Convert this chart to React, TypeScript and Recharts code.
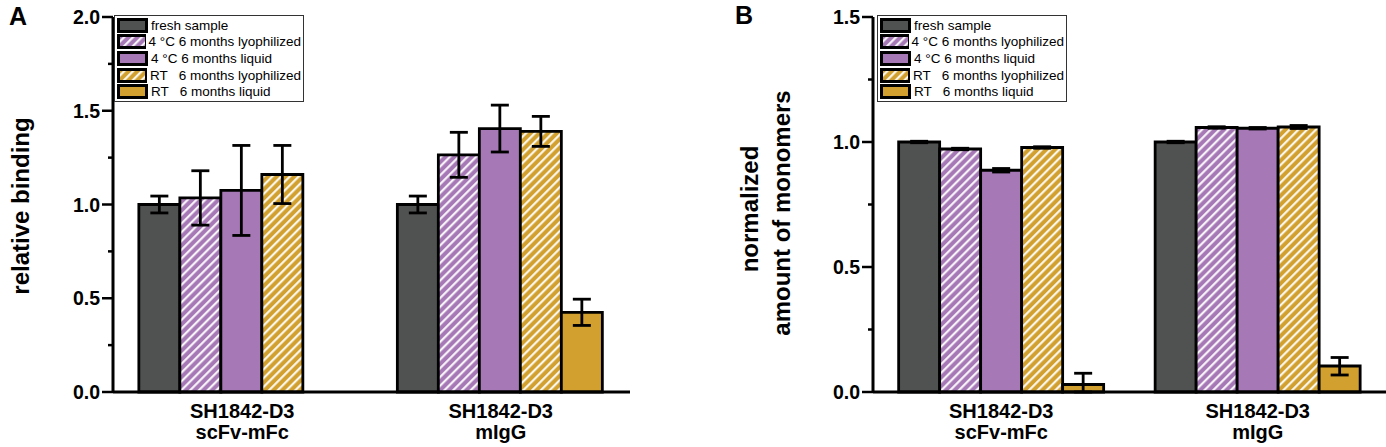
import React from 'react';
import { BarChart, Bar, XAxis, YAxis, ErrorBar, Legend } from 'recharts';

// categories (two-line labels)
const CATEGORIES = [
  ['SH1842-D3', 'scFv-mFc'],
  ['SH1842-D3', 'mIgG'],
];

const SERIES_NAMES = [
  'fresh sample',
  '4 °C 6 months lyophilized',
  '4 °C 6 months liquid',
  'RT   6 months lyophilized',
  'RT   6 months liquid',
];

// panel A: relative binding
const BINDING_FRESH = [1.0, 1.0];
const BINDING_4C_LYO = [1.035, 1.265];
const BINDING_4C_LIQ = [1.075, 1.405];
const BINDING_RT_LYO = [1.16, 1.39];
const BINDING_RT_LIQ = [null, 0.425];
const BINDING_FRESH_ERR = [0.045, 0.045];
const BINDING_4C_LYO_ERR = [0.145, 0.12];
const BINDING_4C_LIQ_ERR = [0.24, 0.125];
const BINDING_RT_LYO_ERR = [0.155, 0.08];
const BINDING_RT_LIQ_ERR = [null, 0.07];
const BINDING_TICKS = [0, 0.25, 0.5, 0.75, 1.0, 1.25, 1.5, 1.75, 2.0];

// panel B: normalized amount of monomers
const MONO_FRESH = [1.0, 1.0];
const MONO_4C_LYO = [0.972, 1.058];
const MONO_4C_LIQ = [0.887, 1.055];
const MONO_RT_LYO = [0.978, 1.06];
const MONO_RT_LIQ = [0.03, 0.104];
const MONO_FRESH_ERR = [0.003, 0.003];
const MONO_4C_LYO_ERR = [0.003, 0.003];
const MONO_4C_LIQ_ERR = [0.007, 0.003];
const MONO_RT_LYO_ERR = [0.003, 0.006];
const MONO_RT_LIQ_ERR = [
  [0.03, 0.045],
  [0.036, 0.034],
];
const MONO_TICKS = [0, 0.25, 0.5, 0.75, 1.0, 1.25, 1.5];

const GREY = '#505251';
const PURPLE = '#A678B6';
const GOLD = '#D2A02E';
const FONT = '"Liberation Sans", Arial, Helvetica, sans-serif';

const buildRows = (values: any[][], errors: any[][]) =>
  CATEGORIES.map((cat, i) => {
    const row: any = { category: cat.join('|') };
    values.forEach((v, s) => {
      row[`s${s}`] = v[i];
      row[`e${s}`] = errors[s][i];
    });
    return row;
  });

const bindingRows = buildRows(
  [BINDING_FRESH, BINDING_4C_LYO, BINDING_4C_LIQ, BINDING_RT_LYO, BINDING_RT_LIQ],
  [BINDING_FRESH_ERR, BINDING_4C_LYO_ERR, BINDING_4C_LIQ_ERR, BINDING_RT_LYO_ERR, BINDING_RT_LIQ_ERR]
);
const monoRows = buildRows(
  [MONO_FRESH, MONO_4C_LYO, MONO_4C_LIQ, MONO_RT_LYO, MONO_RT_LIQ],
  [MONO_FRESH_ERR, MONO_4C_LYO_ERR, MONO_4C_LIQ_ERR, MONO_RT_LYO_ERR, MONO_RT_LIQ_ERR]
);

// white diagonal stripes, "/" direction
const HatchDefs = ({ prefix }: { prefix: string }) => (
  <defs>
    {[
      ['purple', PURPLE],
      ['gold', GOLD],
    ].map(([k, c]) => (
      <pattern
        key={k}
        id={`${prefix}-${k}`}
        width={6.2}
        height={10}
        patternUnits="userSpaceOnUse"
        patternTransform="rotate(45)"
      >
        <rect width={6.2} height={10} fill={c} />
        <line x1={1.2} y1={0} x2={1.2} y2={10} stroke="#fff" strokeWidth={2} />
      </pattern>
    ))}
  </defs>
);

const fillsFor = (prefix: string) => [
  GREY,
  `url(#${prefix}-purple)`,
  PURPLE,
  `url(#${prefix}-gold)`,
  GOLD,
];

const YTick = (props: any) => {
  const { x, y, payload } = props;
  const v = payload.value;
  const major = Math.abs(v * 2 - Math.round(v * 2)) < 1e-6;
  return (
    <g>
      <line x1={x - (major ? 11 : 5)} x2={x} y1={y} y2={y} stroke="#000" strokeWidth={2.5} />
      {major && (
        <text
          x={x - 13}
          y={y}
          dy="0.36em"
          textAnchor="end"
          fontSize={19.5}
          fontWeight="bold"
          fontFamily={FONT}
          fill="#000"
        >
          {v.toFixed(1)}
        </text>
      )}
    </g>
  );
};

const XTick = (props: any) => {
  const { x, y, payload } = props;
  const [l1, l2] = String(payload.value).split('|');
  return (
    <g fontSize={20} fontWeight="bold" fontFamily={FONT} fill="#000">
      <text x={x} y={y + 26} textAnchor="middle">
        {l1}
      </text>
      <text x={x} y={y + 47} textAnchor="middle">
        {l2}
      </text>
    </g>
  );
};

const Swatch = ({ index, id }: { index: number; id: string }) => {
  const fill = fillsFor(id)[index];
  return (
    <svg width={31} height={15} style={{ display: 'block' }}>
      <HatchDefs prefix={id} />
      <rect x={1.5} y={1.5} width={28} height={12} fill={fill} stroke="#000" strokeWidth={3} />
    </svg>
  );
};

const LegendBox = ({ prefix }: { prefix: string }) => (
  <div
    style={{
      border: '1.5px solid #333',
      background: '#fff',
      padding: '1px 2px 1px 2px',
      fontFamily: FONT,
      boxSizing: 'border-box',
    }}
  >
    {SERIES_NAMES.map((name, i) => (
      <div key={name} style={{ display: 'flex', alignItems: 'center', height: 16.6 }}>
        <Swatch index={i} id={`${prefix}-leg${i}`} />
        <span style={{ marginLeft: 3, fontSize: 13.5, whiteSpace: 'pre', color: '#000', lineHeight: '15px' }}>
          {name}
        </span>
      </div>
    ))}
  </div>
);

interface PanelProps {
  prefix: string;
  rows: any[];
  domain: [number, number];
  ticks: number[];
  width: number;
  legendLeft: number;
}

const Panel = ({ prefix, rows, domain, ticks, width, legendLeft }: PanelProps) => {
  const fills = fillsFor(prefix);
  return (
    <BarChart
      width={width}
      height={447}
      data={rows}
      margin={{ top: 17, right: 0, bottom: 5, left: 0 }}
      barCategoryGap="10%"
      barGap={0}
    >
      <HatchDefs prefix={prefix} />
      <XAxis
        dataKey="category"
        height={50}
        tickLine={false}
        tickSize={0}
        tickMargin={0}
        axisLine={{ stroke: '#000', strokeWidth: 3 }}
        tick={<XTick />}
        interval={0}
      />
      <YAxis
        width={113}
        domain={domain}
        ticks={ticks}
        interval={0}
        tickLine={false}
        tickSize={0}
        tickMargin={0}
        axisLine={{ stroke: '#000', strokeWidth: 3 }}
        tick={<YTick />}
      />
      <Legend
        layout="horizontal"
        verticalAlign="middle"
        align="center"
        wrapperStyle={{ left: legendLeft, top: 15, width: 190 }}
        content={() => <LegendBox prefix={prefix} />}
      />
      {SERIES_NAMES.map((name, s) => (
        <Bar
          key={name}
          dataKey={`s${s}`}
          name={name}
          fill={fills[s]}
          stroke="#000"
          strokeWidth={2.8}
          isAnimationActive={false}
        >
          <ErrorBar dataKey={`e${s}`} width={9} stroke="#000" strokeWidth={2.8} />
        </Bar>
      ))}
    </BarChart>
  );
};

const axisTitle = {
  fontFamily: FONT,
  fontWeight: 'bold' as const,
  fontSize: 24,
  fill: '#000',
};

export default function App() {
  return (
    <div
      style={{
        position: 'absolute',
        left: 0,
        top: 0,
        width: 1386,
        height: 447,
        background: '#fff',
        fontFamily: FONT,
        overflow: 'hidden',
      }}
    >
      <div style={{ position: 'absolute', left: 0, top: 0 }}>
        <Panel
          prefix="a"
          rows={bindingRows}
          domain={[0, 2]}
          ticks={BINDING_TICKS}
          width={630}
          legendLeft={114}
        />
      </div>
      <div style={{ position: 'absolute', left: 760, top: 0 }}>
        <Panel
          prefix="b"
          rows={monoRows}
          domain={[0, 1.5]}
          ticks={MONO_TICKS}
          width={626}
          legendLeft={117}
        />
      </div>
      <svg
        width={1386}
        height={447}
        style={{ position: 'absolute', left: 0, top: 0, pointerEvents: 'none' }}
      >
        <text x={9} y={25} fontSize={25} fontWeight="bold" fontFamily={FONT}>
          A
        </text>
        <text x={735} y={24} fontSize={25} fontWeight="bold" fontFamily={FONT}>
          B
        </text>
        <text x={29} y={206} transform="rotate(-90, 29, 206)" textAnchor="middle" {...axisTitle}>
          relative binding
        </text>
        <text x={758} y={209} transform="rotate(-90, 758, 209)" textAnchor="middle" {...axisTitle}>
          normalized
        </text>
        <text x={790} y={213} transform="rotate(-90, 790, 213)" textAnchor="middle" {...axisTitle}>
          amount of monomers
        </text>
      </svg>
    </div>
  );
}
